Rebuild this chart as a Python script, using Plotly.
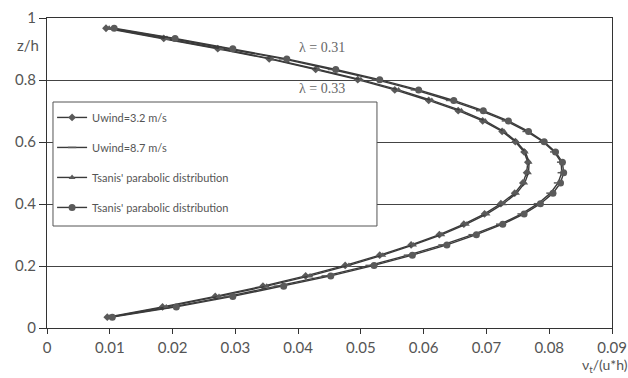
import plotly.graph_objects as go

# Relative depth z/h (shared sampling)
z_h = [0.035, 0.068, 0.102, 0.135, 0.168, 0.202, 0.235, 0.268, 0.301, 0.335,
       0.368, 0.401, 0.435, 0.468, 0.501, 0.535, 0.568, 0.601, 0.634, 0.668,
       0.701, 0.734, 0.768, 0.801, 0.834, 0.868, 0.901, 0.934, 0.967]

# nu_t/(u*h) values
uwind_32 = [0.0096, 0.0184, 0.0268, 0.0344, 0.0412, 0.0475, 0.0530, 0.0580, 0.0625, 0.0664,
            0.0697, 0.0723, 0.0745, 0.0758, 0.0764, 0.0766, 0.0760, 0.0746, 0.0725, 0.0694,
            0.0655, 0.0608, 0.0554, 0.0495, 0.0428, 0.0354, 0.0272, 0.0186, 0.0094]
uwind_87 = [0.0100, 0.0200, 0.0288, 0.0368, 0.0444, 0.0514, 0.0575, 0.0630, 0.0678, 0.0722,
            0.0756, 0.0782, 0.0802, 0.0814, 0.0820, 0.0819, 0.0808, 0.0790, 0.0764, 0.0731,
            0.0690, 0.0642, 0.0586, 0.0524, 0.0454, 0.0376, 0.0290, 0.0198, 0.0102]
tsanis_031 = [0.0100, 0.0190, 0.0274, 0.0350, 0.0419, 0.0481, 0.0535, 0.0584, 0.0629, 0.0668,
              0.0701, 0.0727, 0.0748, 0.0761, 0.0767, 0.0768, 0.0762, 0.0748, 0.0728, 0.0698,
              0.0660, 0.0613, 0.0560, 0.0500, 0.0432, 0.0358, 0.0277, 0.0191, 0.0099]
tsanis_033 = [0.0104, 0.0206, 0.0296, 0.0377, 0.0452, 0.0521, 0.0582, 0.0637, 0.0684, 0.0726,
              0.0760, 0.0786, 0.0806, 0.0818, 0.0823, 0.0821, 0.0810, 0.0792, 0.0767, 0.0735,
              0.0695, 0.0648, 0.0592, 0.0530, 0.0460, 0.0382, 0.0296, 0.0204, 0.0107]

series_names = ["Uwind=3.2 m/s", "Uwind=8.7 m/s",
                "Tsanis' parabolic distribution", "Tsanis' parabolic distribution"]

x_ticks = [0, 0.01, 0.02, 0.03, 0.04, 0.05, 0.06, 0.07, 0.08, 0.09]
x_ticklabels = ["0", "0.01", "0.02", "0.03", "0.04", "0.05", "0.06", "0.07", "0.08", "0.09"]
y_ticks = [0, 0.2, 0.4, 0.6, 0.8, 1]
y_ticklabels = ["0", "0.2", "0.4", "0.6", "0.8", "1"]

lambda_labels = ["\u03bb = 0.31", "\u03bb = 0.33"]

LINE = "#3a3a3a"
MARK = "#5a5a5a"
FONT = "Lato"

fig = go.Figure()
specs = [
    (uwind_32, series_names[0], "diamond", 6),
    (uwind_87, series_names[1], "line-ew-open", 6),
    (tsanis_031, series_names[2], "triangle-up", 6),
    (tsanis_033, series_names[3], "circle", 7),
]
for i, (xs, name, sym, sz) in enumerate(specs):
    fig.add_trace(go.Scatter(
        x=xs, y=z_h, mode="lines+markers", name=name, legendgroup=f"g{i}",
        line=dict(color=LINE, width=1.4),
        marker=dict(symbol=sym, size=sz, color=MARK,
                    line=dict(color=MARK, width=1.5 if sym.startswith("line") else 0)),
    ))

fig.update_layout(
    width=628, height=378,
    margin=dict(l=47, r=16, t=18, b=50, autoexpand=False),
    paper_bgcolor="white", plot_bgcolor="white",
    font=dict(family=FONT, size=15, color="#555"),
    showlegend=True,
    legend=dict(x=0.009, y=0.726, xanchor="left", yanchor="top",
                bgcolor="rgba(0,0,0,0)", borderwidth=0,
                font=dict(family=FONT, size=11, color="#555"),
                tracegroupgap=11, itemwidth=30),
    xaxis=dict(range=[0, 0.09], tickvals=x_ticks, ticktext=x_ticklabels,
               showgrid=False, zeroline=False, showline=True, linecolor="#333",
               linewidth=1.2, mirror=True, ticks="outside", ticklen=5,
               tickcolor="#333", ticklabelstandoff=1, automargin=False),
    yaxis=dict(range=[0, 1], tickvals=y_ticks, ticktext=y_ticklabels,
               showgrid=True, gridcolor="#444", gridwidth=1, zeroline=False,
               showline=True, linecolor="#333", linewidth=1.2, mirror=True,
               ticks="outside", ticklen=7, tickcolor="#333", automargin=False),
    shapes=[dict(type="rect", xref="paper", yref="paper",
                 x0=0.0106, x1=0.584, y0=0.329, y1=0.729,
                 fillcolor="white", line=dict(color="#555", width=1), layer="above")],
    annotations=[
        dict(text="z/h", xref="paper", yref="y", x=-0.033, y=0.913,
             showarrow=False, xanchor="center", yanchor="middle",
             font=dict(family=FONT, size=15, color="#555")),
        dict(text="\u03bd<sub>t</sub>/(u*h)", xref="paper", yref="paper",
             x=0.943, y=-0.12, showarrow=False, xanchor="left", yanchor="middle",
             font=dict(family=FONT, size=14, color="#555")),
        dict(text=lambda_labels[0], xref="x", yref="y", x=0.0438, y=0.905,
             showarrow=False, xanchor="center", yanchor="middle",
             font=dict(family="Liberation Serif", size=14, color="#666")),
        dict(text=lambda_labels[1], xref="x", yref="y", x=0.0438, y=0.774,
             showarrow=False, xanchor="center", yanchor="middle",
             font=dict(family="Liberation Serif", size=14, color="#666")),
    ],
)

fig.write_html("out.html", config={"displayModeBar": False},
               post_script="document.body.style.margin='0';document.body.style.overflow='hidden';")
